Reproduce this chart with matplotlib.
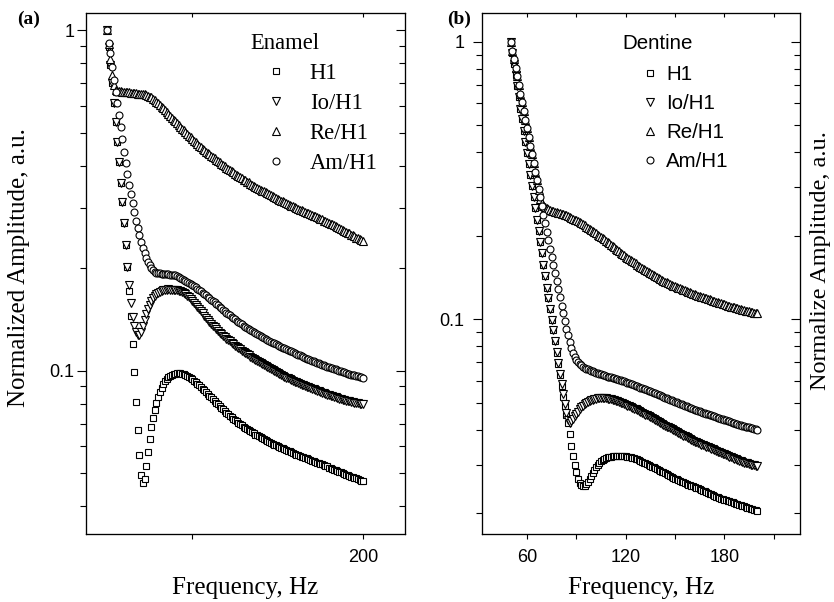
import numpy as np
import matplotlib
matplotlib.use("Agg")
import matplotlib.pyplot as plt
from matplotlib.ticker import LogLocator, NullFormatter, FuncFormatter

SERIF = "Liberation Serif"
SANS = "Liberation Sans"

# frequency grid of the measurement, Hz (1 Hz step)
freq = np.arange(50, 201)

series_labels = ["H1", "Io/H1", "Re/H1", "Am/H1"]

# ---------------- (a) Enamel ----------------
enamel_h1 = [
    1.0, 0.893, 0.789, 0.698, 0.609, 0.538, 0.470, 0.411, 0.356, 0.313,
    0.272, 0.234, 0.202, 0.172, 0.145, 0.120, 0.099, 0.081, 0.067, 0.0565,
    0.0495, 0.0468, 0.0482, 0.0525, 0.0578, 0.0632, 0.0682, 0.0727, 0.0768, 0.0805,
    0.0838, 0.0867, 0.0892, 0.0913, 0.0931, 0.0945, 0.0956, 0.0965, 0.0972, 0.0977,
    0.0980, 0.0982, 0.0983, 0.0982, 0.0980, 0.0977, 0.0972, 0.0966, 0.0959, 0.0951,
    0.0943, 0.0935, 0.0926, 0.0916, 0.0906, 0.0896, 0.0886, 0.0876, 0.0866, 0.0856,
    0.0846, 0.0836, 0.0826, 0.0816, 0.0806, 0.0797, 0.0788, 0.0779, 0.0770, 0.0762,
    0.0754, 0.0746, 0.0738, 0.0731, 0.0724, 0.0717, 0.0710, 0.0704, 0.0698, 0.0692,
    0.0686, 0.0680, 0.0675, 0.0670, 0.0665, 0.0660, 0.0655, 0.0650, 0.0646, 0.0642,
    0.0638, 0.0634, 0.0630, 0.0626, 0.0622, 0.0618, 0.0614, 0.0611, 0.0607, 0.0604,
    0.0601, 0.0598, 0.0595, 0.0592, 0.0589, 0.0586, 0.0583, 0.0580, 0.0577, 0.0574,
    0.0571, 0.0568, 0.0566, 0.0563, 0.0560, 0.0558, 0.0555, 0.0553, 0.0550, 0.0548,
    0.0545, 0.0543, 0.0540, 0.0538, 0.0536, 0.0533, 0.0531, 0.0529, 0.0526, 0.0524,
    0.0520, 0.0518, 0.0515, 0.0513, 0.0510, 0.0508, 0.0506, 0.0503, 0.0501, 0.0498,
    0.0496, 0.0494, 0.0492, 0.0489, 0.0487, 0.0485, 0.0483, 0.0480, 0.0478, 0.0476,
    0.0474,
]
enamel_io = [
    1.0, 0.893, 0.789, 0.698, 0.609, 0.538, 0.470, 0.411, 0.356, 0.313,
    0.272, 0.234, 0.202, 0.178, 0.158, 0.144, 0.135, 0.130, 0.127, 0.1275,
    0.130, 0.135, 0.141, 0.147, 0.152, 0.156, 0.160, 0.163, 0.1655, 0.1675,
    0.169, 0.1705, 0.1715, 0.1722, 0.1728, 0.1732, 0.1733, 0.1732, 0.1731, 0.1729,
    0.1727, 0.1724, 0.1719, 0.1712, 0.1703, 0.1692, 0.1678, 0.1662, 0.1644, 0.1625,
    0.1605, 0.1584, 0.1562, 0.1540, 0.1518, 0.1496, 0.1474, 0.1452, 0.1431, 0.1411,
    0.1392, 0.1374, 0.1357, 0.1340, 0.1324, 0.1309, 0.1294, 0.1280, 0.1267, 0.1254,
    0.1242, 0.1230, 0.1219, 0.1208, 0.1197, 0.1186, 0.1175, 0.1165, 0.1155, 0.1145,
    0.1136, 0.1127, 0.1118, 0.1109, 0.1100, 0.1092, 0.1084, 0.1076, 0.1068, 0.1060,
    0.1052, 0.1045, 0.1038, 0.1031, 0.1024, 0.1017, 0.1010, 0.1003, 0.0997, 0.0991,
    0.0985, 0.0979, 0.0973, 0.0967, 0.0961, 0.0955, 0.0950, 0.0945, 0.0940, 0.0935,
    0.0930, 0.0925, 0.0920, 0.0915, 0.0911, 0.0907, 0.0903, 0.0899, 0.0895, 0.0891,
    0.0887, 0.0883, 0.0879, 0.0875, 0.0871, 0.0867, 0.0863, 0.0859, 0.0855, 0.0851,
    0.0847, 0.0844, 0.0841, 0.0838, 0.0835, 0.0832, 0.0829, 0.0826, 0.0823, 0.0820,
    0.0817, 0.0815, 0.0813, 0.0811, 0.0809, 0.0807, 0.0805, 0.0803, 0.0801, 0.0799,
    0.0797,
]
enamel_re = [
    1.0, 0.910, 0.820, 0.740, 0.688, 0.668, 0.664, 0.662, 0.661, 0.660,
    0.659, 0.658, 0.657, 0.656, 0.655, 0.654, 0.653, 0.652, 0.651, 0.650,
    0.650, 0.649, 0.647, 0.645, 0.642, 0.638, 0.634, 0.629, 0.623, 0.617,
    0.610, 0.603, 0.596, 0.589, 0.582, 0.575, 0.567, 0.560, 0.553, 0.546,
    0.540, 0.533, 0.527, 0.520, 0.514, 0.508, 0.501, 0.495, 0.489, 0.484,
    0.478, 0.473, 0.468, 0.463, 0.458, 0.453, 0.449, 0.444, 0.440, 0.436,
    0.432, 0.428, 0.424, 0.420, 0.416, 0.412, 0.409, 0.405, 0.401, 0.398,
    0.394, 0.391, 0.388, 0.385, 0.382, 0.379, 0.376, 0.373, 0.370, 0.367,
    0.364, 0.362, 0.359, 0.357, 0.354, 0.352, 0.349, 0.347, 0.345, 0.342,
    0.340, 0.338, 0.336, 0.334, 0.332, 0.330, 0.328, 0.326, 0.324, 0.322,
    0.320, 0.318, 0.316, 0.314, 0.313, 0.311, 0.309, 0.307, 0.305, 0.304,
    0.302, 0.300, 0.299, 0.297, 0.296, 0.294, 0.293, 0.291, 0.290, 0.288,
    0.287, 0.285, 0.284, 0.282, 0.281, 0.279, 0.278, 0.276, 0.275, 0.273,
    0.272, 0.270, 0.269, 0.267, 0.266, 0.264, 0.262, 0.261, 0.259, 0.258,
    0.256, 0.254, 0.253, 0.251, 0.250, 0.248, 0.246, 0.245, 0.243, 0.242,
    0.240,
]
enamel_am = [
    1.0, 0.918, 0.854, 0.780, 0.713, 0.660, 0.610, 0.565, 0.520, 0.478,
    0.440, 0.406, 0.378, 0.352, 0.330, 0.310, 0.292, 0.276, 0.262, 0.250,
    0.239, 0.230, 0.222, 0.215, 0.209, 0.204, 0.200, 0.197, 0.195, 0.194,
    0.1935, 0.1932, 0.1929, 0.1926, 0.1923, 0.1920, 0.1917, 0.1914, 0.1910, 0.1908,
    0.1905, 0.1896, 0.1886, 0.1876, 0.1864, 0.1852, 0.1840, 0.1827, 0.1814, 0.1800,
    0.1786, 0.1772, 0.1757, 0.1742, 0.1727, 0.1712, 0.1697, 0.1681, 0.1665, 0.1650,
    0.1634, 0.1618, 0.1603, 0.1588, 0.1573, 0.1557, 0.1542, 0.1527, 0.1512, 0.1497,
    0.1482, 0.1468, 0.1454, 0.1441, 0.1428, 0.1415, 0.1403, 0.1391, 0.1379, 0.1368,
    0.1357, 0.1347, 0.1337, 0.1327, 0.1317, 0.1307, 0.1297, 0.1288, 0.1279, 0.1270,
    0.1261, 0.1253, 0.1245, 0.1238, 0.1231, 0.1224, 0.1217, 0.1210, 0.1203, 0.1197,
    0.1190, 0.1183, 0.1176, 0.1170, 0.1164, 0.1158, 0.1152, 0.1146, 0.1140, 0.1134,
    0.1127, 0.1121, 0.1115, 0.1109, 0.1103, 0.1097, 0.1091, 0.1086, 0.1081, 0.1076,
    0.1071, 0.1066, 0.1061, 0.1056, 0.1051, 0.1046, 0.1041, 0.1037, 0.1033, 0.1029,
    0.1025, 0.1021, 0.1017, 0.1013, 0.1009, 0.1005, 0.1001, 0.0997, 0.0993, 0.0989,
    0.0985, 0.0981, 0.0978, 0.0975, 0.0972, 0.0969, 0.0966, 0.0963, 0.0960, 0.0957,
    0.0954,
]

# ---------------- (b) Dentine ----------------
dentine_h1 = [
    1.0, 0.912, 0.832, 0.759, 0.692, 0.631, 0.575, 0.525, 0.479, 0.437,
    0.398, 0.363, 0.331, 0.302, 0.275, 0.251, 0.229, 0.209, 0.190, 0.173,
    0.157, 0.143, 0.130, 0.119, 0.109, 0.0995, 0.0912, 0.0834, 0.0759, 0.0692,
    0.0630, 0.0575, 0.0527, 0.0487, 0.0452, 0.0422, 0.0385, 0.0350, 0.0322, 0.0300,
    0.0281, 0.0267, 0.0258, 0.0253, 0.0251, 0.0252, 0.0255, 0.0260, 0.0266, 0.0273,
    0.0280, 0.0287, 0.0293, 0.0299, 0.0304, 0.0308, 0.0311, 0.0314, 0.0316, 0.0318,
    0.0319, 0.0320, 0.0321, 0.0322, 0.0322, 0.0322, 0.0322, 0.0322, 0.0321, 0.0321,
    0.0321, 0.0320, 0.0319, 0.0318, 0.0317, 0.0316, 0.0315, 0.0313, 0.0311, 0.0309,
    0.0307, 0.0305, 0.0303, 0.0301, 0.0299, 0.0297, 0.0295, 0.0293, 0.0291, 0.0289,
    0.0287, 0.0285, 0.0283, 0.0281, 0.0279, 0.0277, 0.0275, 0.0273, 0.0271, 0.0269,
    0.0267, 0.0265, 0.0264, 0.0262, 0.0260, 0.0259, 0.0257, 0.0256, 0.0254, 0.0253,
    0.0252, 0.0250, 0.0249, 0.0247, 0.0246, 0.0244, 0.0243, 0.0241, 0.0240, 0.0238,
    0.0237, 0.0235, 0.0234, 0.0233, 0.0231, 0.0230, 0.0229, 0.0228, 0.0226, 0.0225,
    0.0224, 0.0223, 0.0222, 0.0221, 0.0220, 0.0219, 0.0218, 0.0217, 0.0216, 0.0215,
    0.0214, 0.0213, 0.0212, 0.0211, 0.0210, 0.0209, 0.0208, 0.0207, 0.0206, 0.0205,
    0.0204,
]
dentine_io = [
    1.0, 0.912, 0.832, 0.759, 0.692, 0.631, 0.575, 0.525, 0.479, 0.437,
    0.398, 0.363, 0.331, 0.302, 0.275, 0.251, 0.229, 0.209, 0.190, 0.173,
    0.157, 0.143, 0.130, 0.119, 0.109, 0.0995, 0.0912, 0.0834, 0.0762, 0.0697,
    0.0638, 0.0585, 0.0538, 0.0497, 0.0461, 0.0433, 0.0425, 0.0430, 0.0438, 0.0447,
    0.0456, 0.0465, 0.0474, 0.0482, 0.0489, 0.0495, 0.0500, 0.0504, 0.0508, 0.0511,
    0.0514, 0.0516, 0.0518, 0.0519, 0.0520, 0.0520, 0.0520, 0.0520, 0.0519, 0.0518,
    0.0517, 0.0515, 0.0513, 0.0511, 0.0509, 0.0507, 0.0504, 0.0501, 0.0498, 0.0495,
    0.0492, 0.0489, 0.0486, 0.0483, 0.0480, 0.0477, 0.0474, 0.0471, 0.0467, 0.0464,
    0.0461, 0.0458, 0.0454, 0.0451, 0.0448, 0.0444, 0.0441, 0.0438, 0.0434, 0.0431,
    0.0428, 0.0424, 0.0421, 0.0418, 0.0414, 0.0411, 0.0408, 0.0405, 0.0402, 0.0399,
    0.0396, 0.0393, 0.0390, 0.0387, 0.0384, 0.0381, 0.0379, 0.0376, 0.0373, 0.0371,
    0.0368, 0.0366, 0.0363, 0.0361, 0.0359, 0.0356, 0.0354, 0.0352, 0.0350, 0.0348,
    0.0346, 0.0344, 0.0342, 0.0340, 0.0338, 0.0336, 0.0334, 0.0332, 0.0330, 0.0328,
    0.0326, 0.0324, 0.0322, 0.0320, 0.0318, 0.0317, 0.0315, 0.0313, 0.0311, 0.0310,
    0.0308, 0.0307, 0.0305, 0.0304, 0.0303, 0.0301, 0.0300, 0.0299, 0.0298, 0.0297,
    0.0296,
]
dentine_re = [
    1.0, 0.930, 0.865, 0.805, 0.750, 0.700, 0.650, 0.605, 0.563, 0.524,
    0.488, 0.454, 0.422, 0.393, 0.366, 0.341, 0.318, 0.292, 0.272, 0.262,
    0.257, 0.254, 0.251, 0.249, 0.247, 0.246, 0.245, 0.244, 0.243, 0.242,
    0.241, 0.240, 0.239, 0.238, 0.237, 0.235, 0.234, 0.232, 0.230, 0.229,
    0.228, 0.226, 0.224, 0.222, 0.220, 0.218, 0.216, 0.214, 0.212, 0.210,
    0.208, 0.206, 0.204, 0.202, 0.200, 0.198, 0.196, 0.194, 0.192, 0.190,
    0.188, 0.186, 0.184, 0.182, 0.180, 0.178, 0.176, 0.174, 0.172, 0.170,
    0.168, 0.1665, 0.165, 0.1635, 0.162, 0.1605, 0.159, 0.1575, 0.156, 0.1545,
    0.153, 0.1517, 0.1504, 0.1491, 0.1478, 0.1466, 0.1454, 0.1442, 0.1430, 0.1419,
    0.1408, 0.1398, 0.1388, 0.1378, 0.1368, 0.1359, 0.1350, 0.1341, 0.1332, 0.1324,
    0.1316, 0.1308, 0.1300, 0.1292, 0.1285, 0.1278, 0.1271, 0.1264, 0.1257, 0.1250,
    0.1243, 0.1237, 0.1231, 0.1225, 0.1219, 0.1213, 0.1207, 0.1202, 0.1197, 0.1192,
    0.1186, 0.1180, 0.1174, 0.1168, 0.1162, 0.1157, 0.1152, 0.1147, 0.1142, 0.1137,
    0.1132, 0.1127, 0.1122, 0.1117, 0.1112, 0.1108, 0.1104, 0.1100, 0.1096, 0.1092,
    0.1088, 0.1084, 0.1080, 0.1076, 0.1072, 0.1068, 0.1064, 0.1060, 0.1057, 0.1054,
    0.1051,
]
dentine_am = [
    1.0, 0.930, 0.865, 0.805, 0.750, 0.700, 0.650, 0.605, 0.563, 0.524,
    0.488, 0.454, 0.422, 0.393, 0.366, 0.341, 0.318, 0.296, 0.276, 0.256,
    0.238, 0.222, 0.207, 0.193, 0.180, 0.168, 0.157, 0.147, 0.138, 0.129,
    0.120, 0.112, 0.105, 0.0985, 0.0925, 0.0875, 0.0830, 0.0790, 0.0757, 0.0732,
    0.0713, 0.0700, 0.0690, 0.0683, 0.0676, 0.0670, 0.0665, 0.0661, 0.0657, 0.0653,
    0.0649, 0.0646, 0.0643, 0.0640, 0.0637, 0.0634, 0.0631, 0.0628, 0.0625, 0.0622,
    0.0621, 0.0619, 0.0617, 0.0614, 0.0612, 0.0609, 0.0606, 0.0604, 0.0601, 0.0598,
    0.0595, 0.0592, 0.0589, 0.0586, 0.0583, 0.0580, 0.0577, 0.0574, 0.0571, 0.0568,
    0.0565, 0.0562, 0.0559, 0.0556, 0.0553, 0.0550, 0.0547, 0.0544, 0.0541, 0.0538,
    0.0535, 0.0532, 0.0529, 0.0526, 0.0523, 0.0520, 0.0517, 0.0514, 0.0511, 0.0508,
    0.0505, 0.0502, 0.0499, 0.0497, 0.0494, 0.0491, 0.0488, 0.0486, 0.0483, 0.0481,
    0.0478, 0.0476, 0.0473, 0.0471, 0.0468, 0.0466, 0.0464, 0.0461, 0.0459, 0.0457,
    0.0455, 0.0453, 0.0451, 0.0449, 0.0447, 0.0445, 0.0443, 0.0441, 0.0439, 0.0437,
    0.0435, 0.0433, 0.0431, 0.0429, 0.0427, 0.0425, 0.0423, 0.0421, 0.0419, 0.0417,
    0.0415, 0.0414, 0.0412, 0.0411, 0.0409, 0.0408, 0.0406, 0.0405, 0.0403, 0.0402,
    0.0401,
]

markers = ["s", "v", "^", "o"]
msizes = [4.6, 5.4, 5.4, 5.0]


def log_label(v, pos):
    return "%g" % v


def draw_panel(ax, data, xlim, ylim, xticks, xticklabels, ypad, leg_font, leg_size,
               leg_anchor, text_pad, leg_space, title, title_xy):
    handles = []
    for vals, mk, ms in zip(data, markers, msizes):
        assert len(vals) == len(freq)
        h, = ax.plot(freq, vals, ls="none", marker=mk, ms=ms, mfc="white",
                     mec="black", mew=0.8)
        handles.append(h)

    ax.set_yscale("log")
    ax.set_xlim(xlim)
    ax.set_ylim(ylim)
    ax.set_xticks(xticks)
    ax.set_xticklabels(xticklabels)
    ax.yaxis.set_major_locator(LogLocator(base=10))
    ax.yaxis.set_minor_locator(LogLocator(base=10, subs=np.arange(2, 10)))
    ax.yaxis.set_major_formatter(FuncFormatter(log_label))
    ax.yaxis.set_minor_formatter(NullFormatter())
    ax.tick_params(axis="y", which="major", direction="out", length=6.8, width=0.8,
                   pad=ypad, labelsize=13, labelfontfamily=SANS)
    ax.tick_params(axis="y", which="minor", direction="out", length=4.5, width=0.8)
    ax.tick_params(axis="x", which="both", direction="out", length=3.8, width=0.8,
                   pad=7, labelsize=13, labelfontfamily=SANS)
    for s in ax.spines.values():
        s.set_linewidth(0.8)

    # right and top: inward ticks, no labels
    right = ax.twinx()
    right.set_yscale("log")
    right.set_ylim(ylim)
    right.yaxis.set_major_locator(LogLocator(base=10))
    right.yaxis.set_minor_locator(LogLocator(base=10, subs=np.arange(2, 10)))
    right.yaxis.set_minor_formatter(NullFormatter())
    right.tick_params(axis="y", which="major", direction="in", length=6.8, width=0.8,
                      labelright=False)
    right.tick_params(axis="y", which="minor", direction="in", length=4.5, width=0.8)
    top = ax.twiny()
    top.set_xlim(xlim)
    top.set_xticks(xticks)
    top.tick_params(axis="x", direction="in", length=3.2, width=0.8, labeltop=False)
    for s in list(right.spines.values()) + list(top.spines.values()):
        s.set_linewidth(0.8)

    ax.set_xlabel("Frequency, Hz", fontfamily=SERIF, fontsize=18, labelpad=8)

    ax.legend(handles, series_labels, loc="upper left", bbox_to_anchor=leg_anchor,
              bbox_transform=ax.transAxes, frameon=False, borderpad=0,
              borderaxespad=0, handlelength=1.0, handletextpad=text_pad,
              labelspacing=leg_space, prop={"family": leg_font, "size": leg_size})
    ax.text(title_xy[0], title_xy[1], title, transform=ax.transAxes, ha="left",
            va="center", fontfamily=leg_font, fontsize=leg_size)


fig = plt.figure(figsize=(8.34, 6.02), dpi=100)
ax_a = fig.add_axes([0.1031, 0.1130, 0.3825, 0.8654])
ax_b = fig.add_axes([0.5779, 0.1130, 0.3813, 0.8654])

draw_panel(ax_a, [enamel_h1, enamel_io, enamel_re, enamel_am],
           xlim=(37.7, 224.6), ylim=(0.0332, 1.122),
           xticks=[100, 200], xticklabels=["", "200"], ypad=1.5,
           leg_font=SERIF, leg_size=16.3, leg_anchor=(0.56, 0.904),
           text_pad=1.0, leg_space=0.40, title="Enamel", title_xy=(0.514, 0.942))

draw_panel(ax_b, [dentine_h1, dentine_io, dentine_re, dentine_am],
           xlim=(32.6, 226.0), ylim=(0.01686, 1.27),
           xticks=[60, 90, 120, 150, 180, 210],
           xticklabels=["60", "", "120", "", "180", ""], ypad=6,
           leg_font=SANS, leg_size=14.8, leg_anchor=(0.497, 0.900),
           text_pad=0.28, leg_space=0.49, title="Dentine", title_xy=(0.443, 0.942))

fig.text(0.0228, 0.556, "Normalized Amplitude, a.u.", rotation=90, ha="center",
         va="center", fontfamily=SERIF, fontsize=18)
fig.text(0.9844, 0.568, "Normalize Amplitude, a.u.", rotation=90, ha="center",
         va="center", fontfamily=SERIF, fontsize=17.5)
fig.text(0.020, 0.960, "(a)", ha="left", va="baseline", fontfamily=SERIF,
         fontweight="bold", fontsize=14)
fig.text(0.536, 0.960, "(b)", ha="left", va="baseline", fontfamily=SERIF,
         fontweight="bold", fontsize=14)

fig.savefig("out.png", dpi=100)
